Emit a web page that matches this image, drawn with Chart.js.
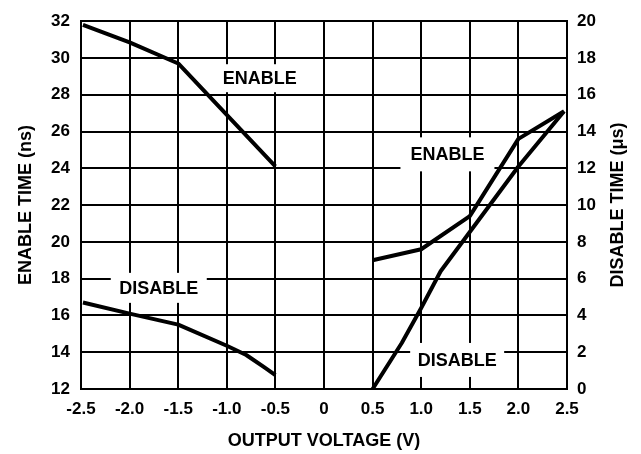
<!DOCTYPE html>
<html>
<head>
<meta charset="utf-8">
<script src="https://cdn.jsdelivr.net/npm/chart.js@4"></script>
<style>
  html, body { margin: 0; padding: 0; background: #fff; }
  #wrap { width: 641px; height: 454px; }
</style>
</head>
<body>
<div id="wrap"><canvas id="timeChart" width="641" height="454"></canvas></div>
<script>
// negative output voltage, times in ns (left axis)
const voltNegEnable = [-2.48, -2.0, -1.5, -1.0, -0.5];
const enableNeg = [31.8, 30.85, 29.7, 26.9, 24.1];
const voltNegDisable = [-2.48, -2.0, -1.5, -1.0, -0.8, -0.62, -0.5];
const disableNeg = [16.7, 16.1, 15.5, 14.35, 13.85, 13.2, 12.75];

// positive output voltage, times in us (right axis)
const voltPosEnable = [0.5, 1.0, 1.5, 2.0, 2.47];
const enablePos = [7.0, 7.6, 9.4, 13.6, 15.1];
const voltPosDisable = [0.5, 0.8, 1.0, 1.2, 2.0, 2.47];
const disablePos = [0.0, 2.5, 4.4, 6.4, 12.1, 15.1];

const xTickLabels = ['-2.5', '-2.0', '-1.5', '-1.0', '-0.5', '0', '0.5', '1.0', '1.5', '2.0', '2.5'];

const FONT = 'Liberation Sans, Arial, Helvetica, sans-serif';

const toPoints = (xs, ys) => xs.map((x, i) => ({ x: x, y: ys[i] }));

const curve = (label, xs, ys, axis) => ({
    label: label,
    data: toPoints(xs, ys),
    yAxisID: axis,
    borderColor: '#000',
    borderWidth: 4,
    pointRadius: 0,
    tension: 0,
    fill: false,
    borderJoinStyle: 'round'
});

// curve labels sit on white boxes that break the grid
const curveLabels = [
    { text: 'ENABLE', x: -0.66, y: 28.9, w: 94, h: 28 },
    { text: 'DISABLE', x: -1.70, y: 17.5, w: 96, h: 30 },
    { text: 'ENABLE', x: 1.27, y: 24.76, w: 94, h: 34 },
    { text: 'DISABLE', x: 1.37, y: 13.58, w: 94, h: 34 }
];

const labelPlugin = {
    id: 'curveLabels',
    beforeDatasetsDraw(chart) {
        const { ctx, scales } = chart;
        ctx.save();
        ctx.font = 'bold 18px ' + FONT;
        ctx.textAlign = 'center';
        ctx.textBaseline = 'middle';
        curveLabels.forEach(l => {
            const px = scales.x.getPixelForValue(l.x);
            const py = scales.y.getPixelForValue(l.y);
            ctx.fillStyle = '#fff';
            ctx.fillRect(px - l.w / 2, py - l.h / 2, l.w, l.h);
            ctx.fillStyle = '#000';
            ctx.fillText(l.text, px, py + 1);
        });
        ctx.restore();
    },
    afterDraw(chart) {
        // right axis title reads bottom to top, like the left one
        const { ctx, chartArea } = chart;
        ctx.save();
        ctx.translate(618, (chartArea.top + chartArea.bottom) / 2);
        ctx.rotate(-Math.PI / 2);
        ctx.font = 'bold 18px ' + FONT;
        ctx.fillStyle = '#000';
        ctx.textAlign = 'center';
        ctx.textBaseline = 'middle';
        ctx.fillText('DISABLE TIME (\u03bcs)', 0, 0);
        ctx.restore();
    }
};

const ctx = document.getElementById('timeChart').getContext('2d');

new Chart(ctx, {
    type: 'line',
    data: {
        datasets: [
            curve('Enable (ns)', voltNegEnable, enableNeg, 'y'),
            curve('Disable (ns)', voltNegDisable, disableNeg, 'y'),
            curve('Enable (us)', voltPosEnable, enablePos, 'y2'),
            curve('Disable (us)', voltPosDisable, disablePos, 'y2')
        ]
    },
    options: {
        responsive: false,
        animation: false,
        layout: { padding: { top: 19, left: 0, right: 0, bottom: 0 } },
        plugins: {
            legend: { display: false },
            tooltip: { enabled: false }
        },
        scales: {
            x: {
                type: 'linear',
                min: -2.5,
                max: 2.5,
                afterFit: s => { s.height = 65; },
                ticks: {
                    stepSize: 0.5,
                    padding: 10,
                    color: '#000',
                    font: { family: FONT, size: 17, weight: 'bold' },
                    callback: (v, i) => xTickLabels[i]
                },
                grid: { color: '#000', lineWidth: 2, drawTicks: false },
                border: { color: '#000', width: 2 },
                title: {
                    display: true,
                    text: 'OUTPUT VOLTAGE (V)',
                    color: '#000',
                    font: { family: FONT, size: 18, weight: 'bold' },
                    padding: { top: 0, bottom: 2 }
                }
            },
            y: {
                position: 'left',
                min: 12,
                max: 32,
                afterFit: s => { s.width = 81; },
                ticks: {
                    stepSize: 2,
                    padding: 11,
                    color: '#000',
                    font: { family: FONT, size: 17, weight: 'bold' }
                },
                grid: { color: '#000', lineWidth: 2, drawTicks: false },
                border: { color: '#000', width: 2 },
                title: {
                    display: true,
                    text: 'ENABLE TIME (ns)',
                    color: '#000',
                    font: { family: FONT, size: 18, weight: 'bold' },
                    padding: { top: 15, bottom: 0 }
                }
            },
            y2: {
                position: 'right',
                min: 0,
                max: 20,
                afterFit: s => { s.width = 74; },
                ticks: {
                    stepSize: 2,
                    padding: 10,
                    color: '#000',
                    font: { family: FONT, size: 17, weight: 'bold' }
                },
                grid: { drawOnChartArea: false, drawTicks: false },
                border: { color: '#000', width: 2 }
            }
        }
    },
    plugins: [labelPlugin]
});
</script>
</body>
</html>
